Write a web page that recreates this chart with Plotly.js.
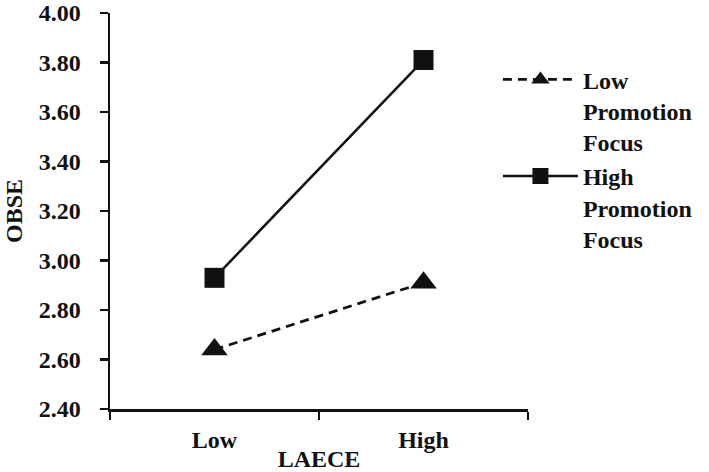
<!DOCTYPE html>
<html>
<head>
<meta charset="utf-8">
<script src="https://cdn.plot.ly/plotly-3.0.1.min.js"></script>
<style>html,body{margin:0;padding:0;background:#fff;}#chart{width:709px;height:472px;}</style>
</head>
<body>
<div id="chart"></div>
<script>
const categories = ['Low', 'High'];
const lowPromotion = [2.64, 2.91];
const highPromotion = [2.93, 3.81];
const seriesNames = ['Low<br>Promotion<br>Focus', 'High<br>Promotion<br>Focus'];
const yTicks = [2.40, 2.60, 2.80, 3.00, 3.20, 3.40, 3.60, 3.80, 4.00];

const ink = '#111111';
const serif = '"Liberation Serif", "Times New Roman", serif';
const fs = 24;

const traces = [
  {
    x: categories, y: lowPromotion, name: seriesNames[0], type: 'scatter', mode: 'lines+markers',
    line: {color: ink, width: 2.8, dash: '9px,6px'},
    marker: {symbol: 'triangle-up', size: 23, color: ink}
  },
  {
    x: categories, y: highPromotion, name: seriesNames[1], type: 'scatter', mode: 'lines+markers',
    line: {color: ink, width: 2.5},
    marker: {symbol: 'square', size: 20, color: ink}
  }
];

const layout = {
  width: 709, height: 472,
  margin: {l: 110, r: 181, t: 13, b: 63, autoexpand: false},
  paper_bgcolor: '#ffffff', plot_bgcolor: '#ffffff',
  font: {family: serif, size: fs, color: ink, weight: 'bold'},
  showlegend: true,
  legend: {
    x: 0.928, y: 0.888, xanchor: 'left', yanchor: 'top',
    valign: 'top', itemwidth: 75,
    font: {family: serif, size: fs, color: ink, weight: 'bold'},
    bgcolor: 'rgba(0,0,0,0)', tracegroupgap: 4
  },
  xaxis: {
    type: 'category', range: [-0.5, 1.5], tickson: 'boundaries',
    showline: true, linecolor: ink, linewidth: 2.5, mirror: false,
    ticks: 'outside', ticklen: 8, tickwidth: 2.5, tickcolor: ink,
    ticklabelstandoff: 8,
    showgrid: false, zeroline: false, fixedrange: true,
    tickfont: {family: serif, size: fs, color: ink, weight: 'bold'},
    title: {text: 'LAECE', font: {family: serif, size: fs, color: ink, weight: 'bold'}, standoff: 0}
  },
  yaxis: {
    range: [2.4, 4.0], tickvals: yTicks, tickformat: '.2f',
    showline: true, linecolor: ink, linewidth: 2.5,
    ticks: 'outside', ticklen: 8, tickwidth: 2.5, tickcolor: ink,
    ticklabelstandoff: 14,
    showgrid: false, zeroline: false, fixedrange: true,
    tickfont: {family: serif, size: fs, color: ink, weight: 'bold'},
    title: {text: 'OBSE', font: {family: serif, size: fs, color: ink, weight: 'bold'}, standoff: 10}
  }
};

Plotly.newPlot('chart', traces, layout, {displayModeBar: false, staticPlot: true});
</script>
</body>
</html>
